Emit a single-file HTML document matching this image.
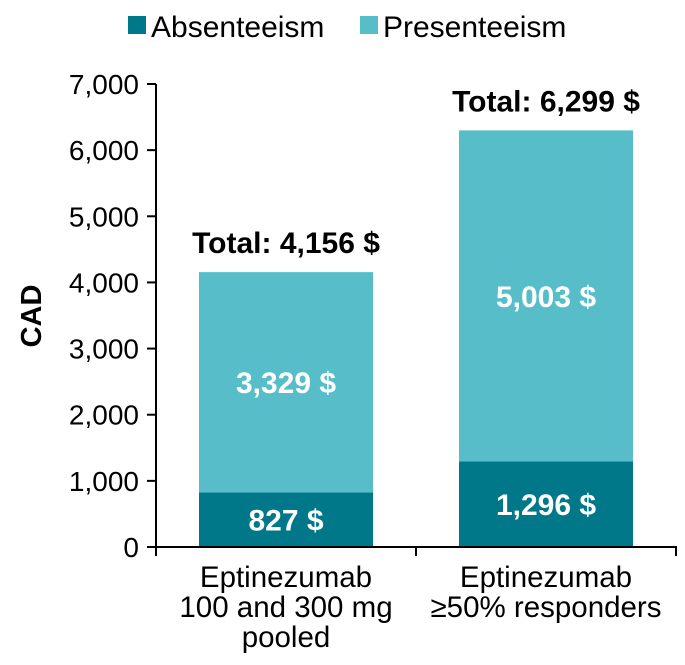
<!DOCTYPE html>
<html><head><meta charset="utf-8"><style>
body{margin:0;background:#fff;}
svg{display:block;font-family:"Liberation Sans",Arial,sans-serif;}
</style></head><body>
<svg id="chart" width="685" height="665"></svg>
<script>
const categories=[["Eptinezumab","100 and 300 mg","pooled"],["Eptinezumab","≥50% responders"]];
const absenteeism=[827,1296];
const presenteeism=[3329,5003];
const totals=[4156,6299];
const yTicks=[0,1000,2000,3000,4000,5000,6000,7000];
const svg=document.getElementById('chart');
const NS='http://www.w3.org/2000/svg';
const y0=547,y1=84,x0=156,xEnd=680;
const y=v=>y0-(v/7000)*(y0-y1);
const fmt=v=>v.toLocaleString('en-US');
function el(tag,attrs,text){const e=document.createElementNS(NS,tag);for(const k in attrs)e.setAttribute(k,attrs[k]);if(text!==undefined)e.textContent=text;svg.appendChild(e);return e;}
const bandW=(xEnd-x0)/2-2;
const xc=i=>x0+bandW*(i+0.5);
const barW=174;
const DARK='#00788a',LIGHT='#57bec9';
categories.forEach((c,i)=>{
  const bx=xc(i)-barW/2;
  let r=el('rect',{x:bx,y:y(absenteeism[i]),width:barW,height:y0-y(absenteeism[i]),fill:DARK});
  
  
  r=el('rect',{x:bx,y:y(absenteeism[i]+presenteeism[i]),width:barW,height:y(absenteeism[i])-y(absenteeism[i]+presenteeism[i]),fill:LIGHT});
  
  
  let t=el('text',{x:xc(i),y:y(absenteeism[i]/2)+11,'text-anchor':'middle','font-size':30,'font-weight':'bold',fill:'#fff'},fmt(absenteeism[i])+' $');
  
  
  t=el('text',{x:xc(i),y:y(absenteeism[i]+presenteeism[i]/2)+11,'text-anchor':'middle','font-size':30,'font-weight':'bold',fill:'#fff'},fmt(presenteeism[i])+' $');
  
  
  t=el('text',{x:xc(i),y:y(totals[i])-19,'text-anchor':'middle','font-size':30,'font-weight':'bold',fill:'#000'},'Total: '+fmt(totals[i])+' $');
  
  
  categories[i].forEach((line,j)=>{
    const tl=el('text',{x:xc(i),y:587+j*30,'text-anchor':'middle','font-size':29.5,fill:'#000'},line);
    
    
  });
});
let a=el('line',{x1:x0,y1:y0,x2:x0,y2:y1,stroke:'#000','stroke-width':2});


a=el('line',{x1:x0-9,y1:y0,x2:x0+2*bandW+1,y2:y0,stroke:'#000','stroke-width':2});


[0,1,2].forEach(k=>{const l=el('line',{x1:x0+bandW*k,y1:y0,x2:x0+bandW*k,y2:y0+9,stroke:'#000','stroke-width':2});

});
yTicks.forEach(v=>{
  const l=el('line',{x1:x0-9,y1:y(v),x2:x0,y2:y(v),stroke:'#000','stroke-width':2});
  
  
  const t=el('text',{x:x0-17,y:y(v)+10,'text-anchor':'end','font-size':28,fill:'#000'},fmt(v));
  
  
});
let yt=el('text',{x:0,y:0,transform:'translate(41,316) rotate(-90)','text-anchor':'middle','font-size':29,'font-weight':'bold',fill:'#000'},'CAD');


let lr=el('rect',{x:128,y:16,width:18,height:18,fill:DARK});


let lt=el('text',{x:151,y:37,'font-size':30,fill:'#000'},'Absenteeism');


lr=el('rect',{x:360,y:16,width:18,height:18,fill:LIGHT});


lt=el('text',{x:383,y:37,'font-size':30,fill:'#000'},'Presenteeism');


</script>
</body></html>
